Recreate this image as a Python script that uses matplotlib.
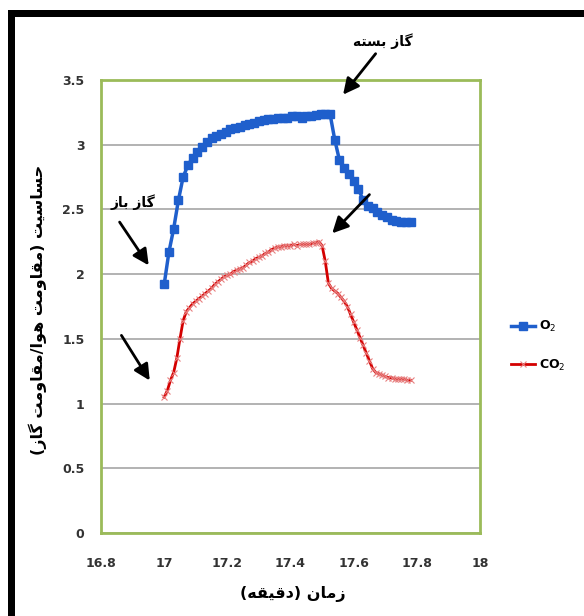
import matplotlib
matplotlib.use('Agg')
import matplotlib.pyplot as plt
from matplotlib.patches import Rectangle

# ---- data ----
o2_time = [17.00, 17.015, 17.03, 17.045, 17.06, 17.075, 17.09, 17.105, 17.12, 17.135,
           17.15, 17.165, 17.18, 17.195, 17.21, 17.225, 17.24, 17.255, 17.27, 17.285,
           17.30, 17.315, 17.33, 17.345, 17.36, 17.375, 17.39, 17.405, 17.42, 17.435,
           17.45, 17.465, 17.48, 17.495, 17.51, 17.525, 17.54, 17.555, 17.57, 17.585,
           17.60, 17.615, 17.63, 17.645, 17.66, 17.675, 17.69, 17.705, 17.72, 17.735,
           17.75, 17.765, 17.78]
o2_sens = [1.92, 2.17, 2.35, 2.57, 2.75, 2.84, 2.90, 2.94, 2.98, 3.02,
           3.05, 3.07, 3.08, 3.10, 3.12, 3.13, 3.14, 3.15, 3.16, 3.17,
           3.18, 3.19, 3.20, 3.20, 3.21, 3.21, 3.21, 3.22, 3.22, 3.21,
           3.22, 3.22, 3.23, 3.24, 3.24, 3.24, 3.04, 2.88, 2.82, 2.77,
           2.72, 2.66, 2.57, 2.53, 2.51, 2.48, 2.46, 2.44, 2.42, 2.41,
           2.40, 2.40, 2.40]

co2_time = [17.00, 17.01, 17.02, 17.03, 17.04, 17.05, 17.06, 17.07, 17.08, 17.09,
            17.10, 17.11, 17.12, 17.13, 17.14, 17.15, 17.16, 17.17, 17.18, 17.19,
            17.20, 17.21, 17.22, 17.23, 17.24, 17.25, 17.26, 17.27, 17.28, 17.29,
            17.30, 17.31, 17.32, 17.33, 17.34, 17.35, 17.36, 17.37, 17.38, 17.39,
            17.40, 17.41, 17.42, 17.43, 17.44, 17.45, 17.46, 17.47, 17.48, 17.49,
            17.50, 17.51, 17.52, 17.53, 17.54, 17.55, 17.56, 17.57, 17.58, 17.59,
            17.60, 17.61, 17.62, 17.63, 17.64, 17.65, 17.66, 17.67, 17.68, 17.69,
            17.70, 17.71, 17.72, 17.73, 17.74, 17.75, 17.76, 17.77, 17.78]
co2_sens = [1.05, 1.10, 1.18, 1.24, 1.35, 1.50, 1.64, 1.71, 1.74, 1.77,
            1.79, 1.81, 1.83, 1.85, 1.87, 1.89, 1.92, 1.94, 1.96, 1.98,
            1.99, 2.00, 2.02, 2.03, 2.04, 2.05, 2.07, 2.09, 2.10, 2.12,
            2.13, 2.14, 2.16, 2.17, 2.19, 2.20, 2.21, 2.21, 2.22, 2.22,
            2.22, 2.23, 2.22, 2.23, 2.23, 2.23, 2.23, 2.24, 2.24, 2.25,
            2.22, 2.10, 1.93, 1.89, 1.87, 1.85, 1.82, 1.79, 1.75, 1.69,
            1.63, 1.57, 1.51, 1.45, 1.39, 1.33, 1.27, 1.24, 1.23, 1.22,
            1.21, 1.20, 1.20, 1.19, 1.19, 1.19, 1.19, 1.18, 1.18]

x_ticks = [16.8, 17, 17.2, 17.4, 17.6, 17.8, 18]
y_ticks = [0, 0.5, 1, 1.5, 2, 2.5, 3, 3.5]

x_label = 'زمان (دقیقه)'
y_label = 'حساسیت (مقاومت هوا/مقاومت گاز)'
closed_label = 'گاز بسته'
open_label = 'گاز باز'

# ---- minimal arabic/persian shaping (matplotlib has no complex text layout) ----
# forms: isolated, final, initial, medial
FORMS = {
    'ا': ('\uFE8D', '\uFE8E', None, None),
    'ب': ('\uFE8F', '\uFE90', '\uFE91', '\uFE92'),
    'ت': ('\uFE95', '\uFE96', '\uFE97', '\uFE98'),
    'ح': ('\uFEA1', '\uFEA2', '\uFEA3', '\uFEA4'),
    'د': ('\uFEA9', '\uFEAA', None, None),
    'ز': ('\uFEAF', '\uFEB0', None, None),
    'س': ('\uFEB1', '\uFEB2', '\uFEB3', '\uFEB4'),
    'ق': ('\uFED5', '\uFED6', '\uFED7', '\uFED8'),
    'م': ('\uFEE1', '\uFEE2', '\uFEE3', '\uFEE4'),
    'ن': ('\uFEE5', '\uFEE6', '\uFEE7', '\uFEE8'),
    'ه': ('\uFEE9', '\uFEEA', '\uFEEB', '\uFEEC'),
    'و': ('\uFEED', '\uFEEE', None, None),
    'ی': ('\uFBFC', '\uFBFD', '\uFBFE', '\uFBFF'),
    'گ': ('\uFB92', '\uFB93', '\uFB94', '\uFB95'),
}
MIRROR = {'(': ')', ')': '('}


def shape(text):
    out = []
    for i, ch in enumerate(text):
        if ch not in FORMS:
            out.append(MIRROR.get(ch, ch))
            continue
        prev = text[i - 1] if i > 0 else ''
        nxt = text[i + 1] if i + 1 < len(text) else ''
        join_prev = prev in FORMS and FORMS[prev][2] is not None
        join_next = FORMS[ch][2] is not None and nxt in FORMS
        idx = (1 if join_prev else 0) + (2 if join_next else 0)
        out.append(FORMS[ch][idx])
    return ''.join(reversed(out))


plt.rcParams['font.family'] = ['DejaVu Sans']

fig = plt.figure(figsize=(5.84, 6.16), dpi=100)
ax = fig.add_axes([101 / 584, 1 - 533 / 616, 379 / 584, 453 / 616])

# black frame on top and left
fig.add_artist(Rectangle((8 / 584, 0), 7 / 584, 1 - 10 / 616, transform=fig.transFigure,
                         color='black', lw=0))
fig.add_artist(Rectangle((8 / 584, 1 - 17 / 616), 1, 7 / 616, transform=fig.transFigure,
                         color='black', lw=0))

ax.plot(o2_time, o2_sens, color='#1F5FCC', lw=2.5, marker='s', ms=5.5,
        label='O$_2$', zorder=3)
ax.plot(co2_time, co2_sens, color='#D40000', lw=2, marker='x', ms=4,
        mec='#E88080', mew=0.8, label='CO$_2$', zorder=3)

ax.set_xlim(16.8, 18)
ax.set_ylim(0, 3.5)
ax.set_xticks(x_ticks)
ax.set_yticks(y_ticks)
ax.set_xticklabels(['%g' % t for t in x_ticks])
ax.set_yticklabels(['%g' % t for t in y_ticks])
ax.tick_params(length=0, labelsize=9, labelcolor='#333333')
ax.tick_params(axis='x', pad=17)
ax.tick_params(axis='y', pad=12)
for lab in ax.get_xticklabels() + ax.get_yticklabels():
    lab.set_fontweight('bold')

ax.yaxis.grid(True, color='#A6A6A6', lw=1.2)
ax.set_axisbelow(True)
for sp in ax.spines.values():
    sp.set_color('#9BBB59')
    sp.set_linewidth(2)

fig.text(293 / 584, 1 - 594 / 616, shape(x_label), ha='center', va='center',
         fontsize=11.5, fontweight='bold')
fig.text(38 / 584, 1 - 310 / 616, shape(y_label), ha='center', va='center',
         rotation=90, fontsize=11.5, fontweight='bold')

# arrows and notes
arrow = dict(arrowstyle='-|>', color='black', lw=2, mutation_scale=24)
ax.text(17.691, 3.80, shape(closed_label), ha='center', va='center', fontsize=10,
        fontweight='bold', clip_on=False)
ax.annotate('', xy=(17.561, 3.37), xytext=(17.675, 3.72), annotation_clip=False,
            arrowprops=arrow)
ax.text(16.900, 2.56, shape(open_label), ha='center', va='center', fontsize=10,
        fontweight='bold')
ax.annotate('', xy=(16.956, 2.05), xytext=(16.854, 2.42), arrowprops=arrow)
ax.annotate('', xy=(16.959, 1.16), xytext=(16.860, 1.545), arrowprops=arrow)
ax.annotate('', xy=(17.526, 2.30), xytext=(17.656, 2.63), arrowprops=arrow)

fig.legend(loc='center left', bbox_to_anchor=(500 / 584, 1 - 346 / 616), frameon=False,
           handlelength=1.9, labelspacing=1.85, handletextpad=0.3,
           prop={'weight': 'bold', 'size': 9})

fig.savefig('out.png', dpi=100)
